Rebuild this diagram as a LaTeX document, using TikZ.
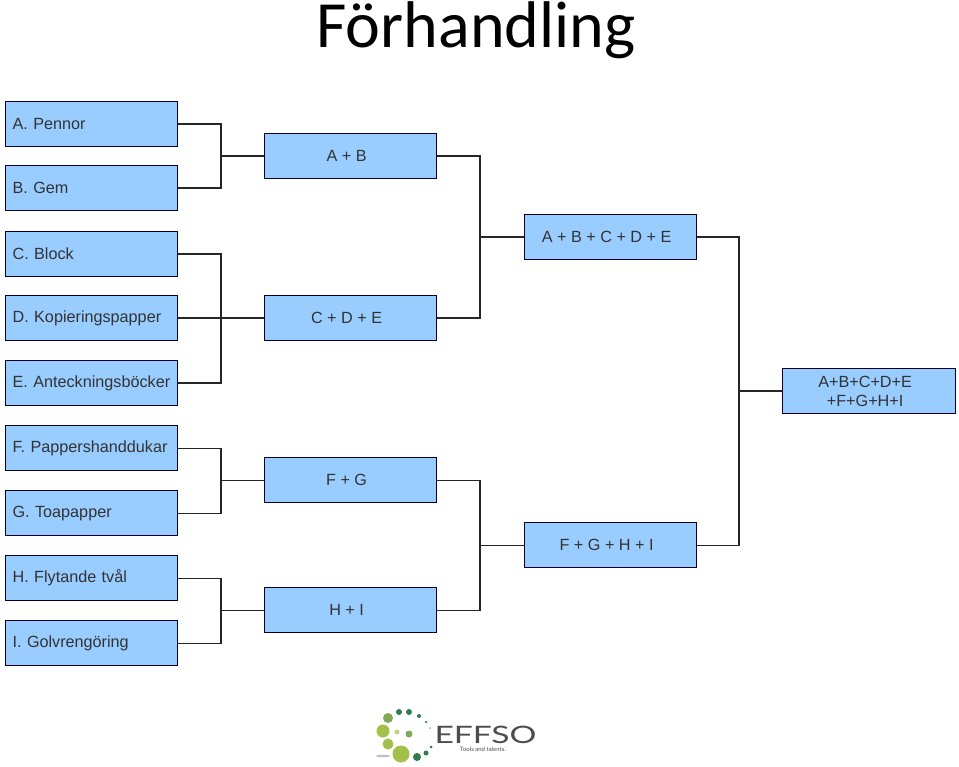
\documentclass[tikz,border=0pt]{standalone}
\usepackage{fontspec}
\setmainfont{Liberation Sans}
\newfontfamily\titlefont{Carlito}
\newfontfamily\logofont{Lato}
\newcommand{\lbl}[1]{\hspace*{-8pt}#1}
\tikzset{
  x=1pt,y=-1pt,
  item/.style={draw=black!85!blue,line width=1.2pt,fill=boxblue,minimum width=172pt,minimum height=45pt,inner sep=0pt,anchor=north west,text=black!80,font=\fontsize{16.2}{19}\selectfont},
  lefttext/.style={align=left,text width=158pt,inner xsep=7pt},
  link/.style={draw=black!85,line width=1.2pt},
}
\definecolor{boxblue}{HTML}{99CCFF}
\definecolor{lg}{HTML}{A3C14A}
\definecolor{mg}{HTML}{7FA858}
\definecolor{dg}{HTML}{2F7D4F}
\begin{document}
\begin{tikzpicture}
\useasboundingbox (0,0) rectangle (959,767);
\node[anchor=base,font=\fontsize{66}{70}\selectfont\titlefont,text=black] (title) at (476,48) {Förhandling};
% first column
\foreach \n/\y/\t in {a/101/A. Pennor,b/165/B. Gem,c/231/C. Block,d/295/D. Kopieringspapper,e/360/E. Anteckningsböcker,f/425/F. Pappershanddukar,g/490/G. Toapapper,h/555/H. Flytande tvål,i/620/I. Golvrengöring}
  \node[item,lefttext] (\n) at (5,\y) {\t};
% second column
\node[item] (ab) at (264,133) {\lbl{A + B}};
\node[item] (cde) at (264,295) {\lbl{C + D + E}};
\node[item] (fg) at (264,457) {\lbl{F + G}};
\node[item] (hi) at (264,587) {\lbl{H + I}};
% third column
\node[item] (abcde) at (524,214) {\lbl{A + B + C + D + E}};
\node[item] (fghi) at (524,522) {\lbl{F + G + H + I}};
% final
\node[item,align=center,minimum width=173pt] (all) at (782,368) {\lbl{A+B+C+D+E}\\\lbl{+F+G+H+I}};
% junctions
\coordinate (j1) at (221,0);
\coordinate (j5) at (480,0);
\coordinate (j7) at (739,0);
\draw[link] (a.east) -| (j1 |- ab.west) |- (b.east);
\draw[link] (j1 |- ab.west) -- (ab.west);
\draw[link] (c.east) -| (j1 |- cde.west) |- (e.east);
\draw[link] (d.east) -- (cde.west);
\draw[link] (f.east) -| (j1 |- fg.west) |- (g.east);
\draw[link] (j1 |- fg.west) -- (fg.west);
\draw[link] (h.east) -| (j1 |- hi.west) |- (i.east);
\draw[link] (j1 |- hi.west) -- (hi.west);
\draw[link] (ab.east) -| (j5 |- abcde.west) |- (cde.east);
\draw[link] (j5 |- abcde.west) -- (abcde.west);
\draw[link] (fg.east) -| (j5 |- fghi.west) |- (hi.east);
\draw[link] (j5 |- fghi.west) -- (fghi.west);
\draw[link] (abcde.east) -| (j7 |- all.west) |- (fghi.east);
\draw[link] (j7 |- all.west) -- (all.west);
% logo
\foreach \cx/\cy/\d/\c in {388/718/10/mg,399/712/6/dg,409/712/6/dg,419/716/4/dg,426/722/2.5/dg,430/728/1.5/dg,383/731/13/lg,397/732/5/lg!70,409/734/7/mg,388/744/11/lg,401/754/17/lg,417/757/8/dg,426/753/5/dg,431/747/3/dg}
  \fill[\c] (\cx,\cy) circle[radius=\d/2];
\fill[black!25] (383,756) ellipse[x radius=7,y radius=1.2];
\node[anchor=base,inner sep=0pt,font=\fontsize{24}{24}\selectfont\logofont,text=black!70,xscale=1.4] (logo) at (485.5,743) {EFFSO};
\node[anchor=base,inner sep=0pt,font=\fontsize{6}{6.5}\selectfont\logofont,text=black!70] (tag) at (483,751) {Tools and talents.};
\end{tikzpicture}
\end{document}
